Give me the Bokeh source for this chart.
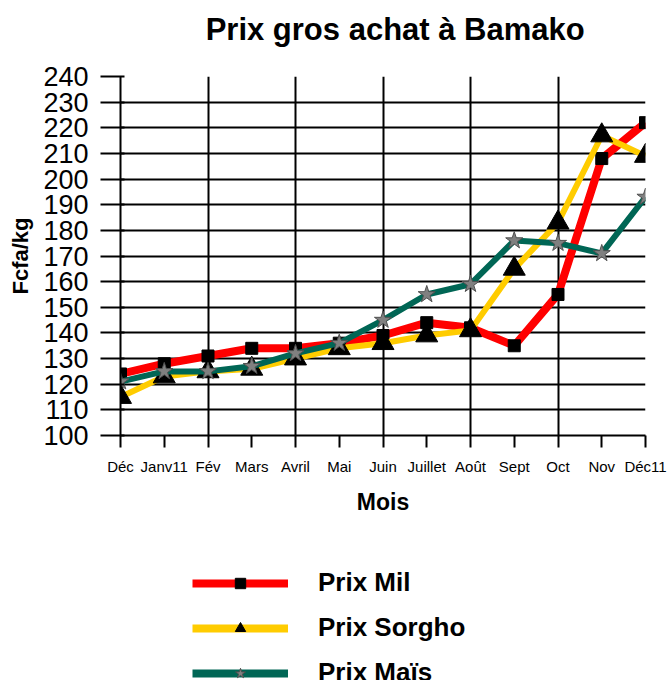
from bokeh.plotting import figure
from bokeh.layouts import column
from bokeh.models import FixedTicker, Range1d, Legend, LegendItem, Label
from bokeh.embed import file_html
from bokeh.resources import INLINE

# ---- data ----
months = ["Déc", "Janv11", "Fév", "Mars", "Avril", "Mai", "Juin",
          "Juillet", "Août", "Sept", "Oct", "Nov", "Déc11"]
prix_mil = [124, 128, 131, 134, 134, 136, 139, 144, 142, 135, 155, 208, 222]
prix_sorgho = [115, 123, 125, 126, 130, 134, 136, 139, 141, 165, 183, 217, 209]
prix_mais = [121, 125, 125, 127, 132, 136, 145, 155, 159, 176, 175, 171, 193]
y_ticks = list(range(100, 241, 10))
title_text = "Prix  gros achat à Bamako"
series_names = ["Prix Mil", "Prix Sorgho", "Prix Maïs"]

xs = list(range(len(months)))
FONT = "Liberation Sans"
W = 668
FRAME_L, FRAME_R, FRAME_T, FRAME_B = 120, 645, 76, 435
H_TOP, H_MAIN, H_LEG = 52, 468, 160

COLORS = ["#FF0000", "#FFCC00", "#006655"]
WIDTHS = [8, 6, 6]
MARKERS = [dict(marker="square", size=12, fill_color="black", line_color="black"),
           dict(marker="triangle", size=22, fill_color="black", line_color="black"),
           dict(marker="star", size=18, fill_color="#808080", line_color="#505050")]


def blank(height, xr, yr):
    f = figure(width=W, height=height, output_backend="svg", toolbar_location=None,
               x_axis_type=None, y_axis_type=None, x_range=xr, y_range=yr,
               min_border=0)
    f.outline_line_color = None
    f.xgrid.visible = False
    f.ygrid.visible = False
    return f


# ---- title (frame is aligned with the main plot frame) ----
pt = blank(H_TOP, Range1d(FRAME_L, FRAME_R), Range1d(0, H_TOP))
pt.add_layout(Label(x=399, y=H_TOP - 29, text=title_text, text_align="center",
                    text_baseline="middle", text_font=FONT, text_font_size="31px",
                    text_font_style="bold", text_color="black"))

# ---- main plot ----
p = figure(width=W, height=H_MAIN, output_backend="svg", toolbar_location=None,
           x_range=Range1d(0, len(months) - 1), y_range=Range1d(100, 240),
           min_border_left=FRAME_L, min_border_right=W - FRAME_R,
           min_border_top=FRAME_T - H_TOP, min_border_bottom=H_TOP + H_MAIN - FRAME_B)
p.outline_line_color = None

p.xgrid.ticker = FixedTicker(ticks=xs[::2])
p.ygrid.ticker = FixedTicker(ticks=y_ticks)
for g in (p.xgrid, p.ygrid):
    g.grid_line_color = "black"
    g.grid_line_width = 2

p.xaxis.ticker = FixedTicker(ticks=xs)
p.xaxis.major_label_overrides = {i: m for i, m in zip(xs, months)}
p.yaxis.ticker = FixedTicker(ticks=y_ticks)
for ax in (p.xaxis, p.yaxis):
    ax.axis_line_color = "black"
    ax.axis_line_width = 2
    ax.major_tick_line_color = "black"
    ax.major_tick_line_width = 2
    ax.minor_tick_line_color = None
    ax.major_label_text_font = FONT
    ax.major_label_text_color = "black"
    ax.axis_label_text_font = FONT
    ax.axis_label_text_font_style = "bold"
    ax.axis_label_text_color = "black"
p.xaxis.major_tick_out = 12
p.xaxis.major_tick_in = 0
p.xaxis.major_label_standoff = 10
p.xaxis.major_label_text_font_size = "15px"
p.xaxis.axis_label = "Mois"
p.xaxis.axis_label_text_font_size = "23px"
p.xaxis.axis_label_standoff = 11

p.yaxis.major_tick_out = 20
p.yaxis.major_tick_in = 4
p.yaxis.major_label_standoff = 12
p.yaxis.major_label_text_font_size = "27px"
p.yaxis.axis_label = "Fcfa/kg"
p.yaxis.axis_label_text_font_size = "22px"
p.yaxis.axis_label_standoff = 7

all_series = [prix_mil, prix_sorgho, prix_mais]
for vals, c, w, mk in zip(all_series, COLORS, WIDTHS, MARKERS):
    p.line(xs, vals, line_color=c, line_width=w)
    p.scatter(xs, vals, **mk)

# ---- legend (its own strip; the series glyphs lie outside its view ranges) ----
pl = blank(H_LEG, Range1d(-100, -99), Range1d(-100, -99))
items = []
for name, vals, c, mk in zip(series_names, all_series, COLORS, MARKERS):
    lr = pl.line(xs, vals, line_color=c, line_width=8)
    sr = pl.scatter(xs, vals, **mk)
    items.append(LegendItem(label=name, renderers=[lr, sr]))
legend = Legend(items=items, location=(192 - FRAME_L, -8), orientation="vertical",
                glyph_width=96, glyph_height=26, label_height=26,
                label_standoff=30, spacing=14, padding=0, margin=0,
                border_line_color=None, background_fill_alpha=0,
                label_text_font=FONT, label_text_font_size="26px",
                label_text_font_style="bold", label_text_color="black")
pl.add_layout(legend, "center")

layout = column(pt, p, pl, spacing=0)
open("out.html", "w").write(file_html(layout, INLINE))
